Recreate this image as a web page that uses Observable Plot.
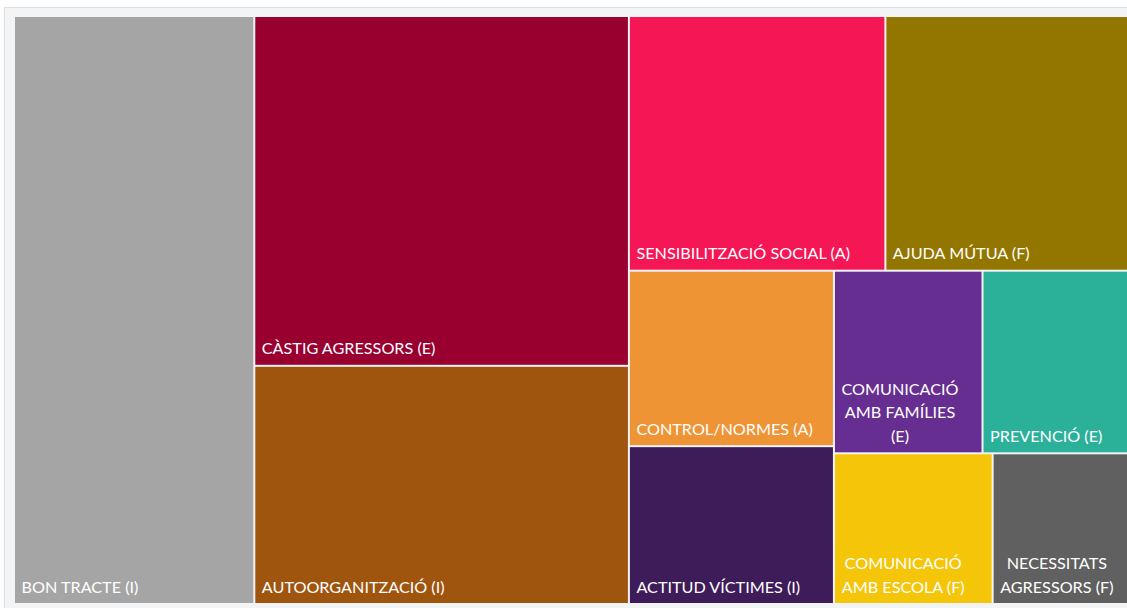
<!DOCTYPE html>
<html><head><meta charset="utf-8">
<script src="https://cdn.jsdelivr.net/npm/d3@7"></script>
<script src="https://cdn.jsdelivr.net/npm/@observablehq/plot@0.6"></script>
<style>
html,body{margin:0;padding:0;background:#fff;overflow:hidden;width:1127px;height:608px}
#panel{position:absolute;left:4px;top:7px;width:1200px;height:700px;background:#f3f4f6;border:1px solid #dedede}
#chart{position:absolute;left:0;top:0;width:1140px}
#chart svg{overflow:visible;max-width:none !important}
</style></head><body>
<div id="panel"></div><div id="chart"></div>
<script>
const categories = ["BON TRACTE (I)", "CÀSTIG AGRESSORS (E)", "AUTOORGANITZACIÓ (I)", "SENSIBILITZACIÓ SOCIAL (A)", "AJUDA MÚTUA (F)", "CONTROL/NORMES (A)", "ACTITUD VÍCTIMES (I)", "COMUNICACIÓ AMB FAMÍLIES (E)", "PREVENCIÓ (E)", "COMUNICACIÓ AMB ESCOLA (F)", "NECESSITATS AGRESSORS (F)"];
const values = [70.3, 65.2, 44.4, 32.5, 31.0, 17.9, 16.1, 13.5, 13.4, 11.9, 10.3];
const colors = ["#a5a5a5", "#990030", "#a0550f", "#f51656", "#937600", "#ef9434", "#3e1c5a", "#672e91", "#2bb09a", "#f5c50a", "#606060"];
const labels = ["BON TRACTE (I)", "CÀSTIG AGRESSORS (E)", "AUTOORGANITZACIÓ (I)", "SENSIBILITZACIÓ SOCIAL (A)", "AJUDA MÚTUA (F)", "CONTROL/NORMES (A)", "ACTITUD VÍCTIMES (I)", "COMUNICACIÓ\nAMB FAMÍLIES\n(E)", "PREVENCIÓ (E)", "COMUNICACIÓ\nAMB ESCOLA (F)", "NECESSITATS\nAGRESSORS (F)"];
// nesting of the treemap tiles (indices into the arrays above)
const layout = ["dice", 0, ["slice", 1, 2], ["slice", ["dice", 3, 4], ["dice", ["slice", 5, 6], ["slice", ["dice", 7, 8], ["dice", 9, 10]]]]];

function build(n) {
  if (typeof n === "number") return {i: n, value: values[n]};
  return {split: n[0], children: n.slice(1).map(build)};
}
const root = d3.hierarchy(build(layout)).sum(d => d.value || 0);
d3.treemap().size([1, 1]).tile((node, x0, y0, x1, y1) =>
  (node.data.split === "dice" ? d3.treemapDice : d3.treemapSlice)(node, x0, y0, x1, y1))(root);

const FONT = "Lato";
const FS = 16.2;
const ctx = document.createElement("canvas").getContext("2d");
ctx.font = `${FS}px ${FONT}`;
const leaves = root.leaves().map(l => {
  const i = l.data.i;
  const lines = labels[i].split("\n");
  return {name: categories[i], label: labels[i], color: colors[i], x0: l.x0, x1: l.x1, y0: l.y0, y1: l.y1,
    multi: lines.length > 1, w: Math.max(...lines.map(s => ctx.measureText(s).width))};
});

const chart = Plot.plot({
  width: 1140, height: 608,
  marginTop: 16, marginBottom: 4, marginLeft: 14, marginRight: 10,
  x: {domain: [0, 1], axis: null},
  y: {domain: [0, 1], range: [16, 604], axis: null},
  color: {type: "identity"},
  style: {background: "transparent", maxWidth: "none"},
  marks: [
    Plot.rect(leaves, {x1: "x0", x2: "x1", y1: "y0", y2: "y1", fill: "color", inset: 1, title: "name"}),
    ...leaves.map(d => Plot.text([d], {
      x: "x0", y: "y1", text: "label", fill: "white", fontSize: FS, fontFamily: FONT,
      textAnchor: d.multi ? "middle" : "start", dx: d.multi ? 7 + d.w / 2 : 7, dy: -12,
      lineAnchor: "bottom", lineHeight: 1.45
    }))
  ]
});
document.getElementById("chart").append(chart);
</script>
</body></html>
